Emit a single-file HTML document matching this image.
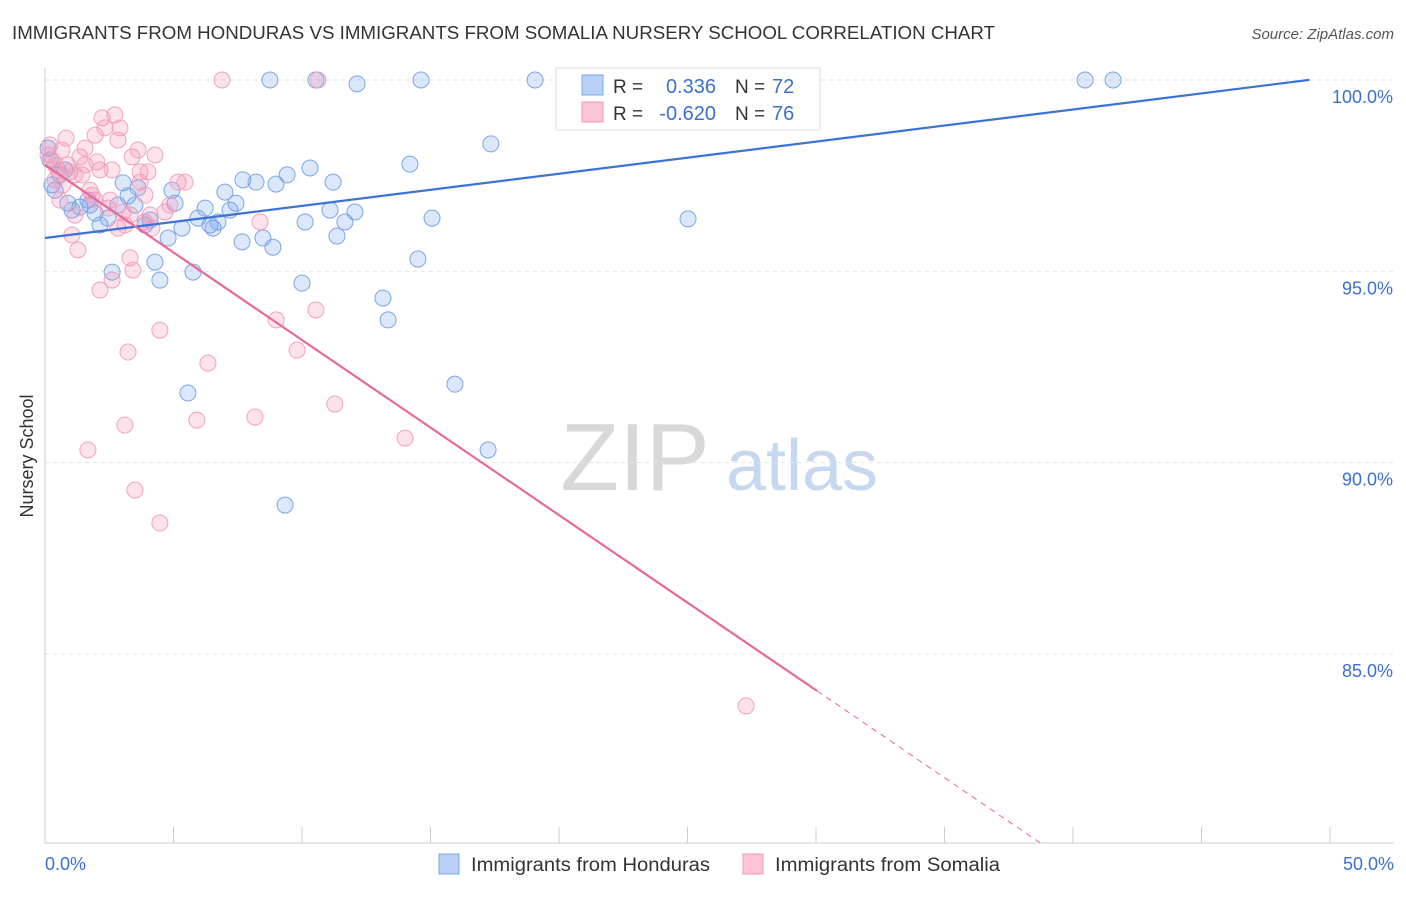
<!DOCTYPE html>
<html><head><meta charset="utf-8"><style>
body{margin:0;background:#fff;font-family:"Liberation Sans",sans-serif;}
svg text{font-family:"Liberation Sans",sans-serif;}
</style></head><body>
<svg id="chart" width="1406" height="892" xmlns="http://www.w3.org/2000/svg">
<text x="12" y="39" font-size="18" fill="#333" textLength="983" lengthAdjust="spacingAndGlyphs">IMMIGRANTS FROM HONDURAS VS IMMIGRANTS FROM SOMALIA NURSERY SCHOOL CORRELATION CHART</text>
<text x="1394" y="39" font-size="15" fill="#555" text-anchor="end" font-style="italic">Source: ZipAtlas.com</text>
<text transform="translate(33,456) rotate(-90)" font-size="18" fill="#333" text-anchor="middle">Nursery School</text>
<g>
<text x="635" y="490" font-size="96" fill="#d8d8d8" text-anchor="middle" font-family="Liberation Serif, serif">ZIP</text>
<text x="802" y="490" font-size="72" fill="#c5d8ef" text-anchor="middle">atlas</text>
</g>
<g id="grid"></g><g id="axes"></g><g id="pts"></g><g id="lines"></g>
<g>
<rect x="556" y="68" width="264" height="62" fill="#fff" stroke="#ddd"/>
<rect x="582" y="75" width="21" height="20" fill="#b8d0f5" stroke="#7aa6e6"/>
<rect x="582" y="102" width="21" height="20" fill="#fcc4d4" stroke="#f09ab6"/>
<text x="613" y="93" font-size="19" fill="#333">R =</text>
<text x="716" y="93" font-size="20" fill="#3b70d0" text-anchor="end">0.336</text>
<text x="735" y="93" font-size="19" fill="#333">N =</text>
<text x="772" y="93" font-size="20" fill="#3b70d0">72</text>
<text x="613" y="120" font-size="19" fill="#333">R =</text>
<text x="716" y="120" font-size="20" fill="#3b70d0" text-anchor="end">-0.620</text>
<text x="735" y="120" font-size="19" fill="#333">N =</text>
<text x="772" y="120" font-size="20" fill="#3b70d0">76</text>
</g>
<g>
<rect x="439" y="854" width="20" height="20" fill="#b8d0f5" stroke="#7aa6e6"/>
<text x="471" y="871" font-size="19" fill="#333" textLength="239" lengthAdjust="spacingAndGlyphs">Immigrants from Honduras</text>
<rect x="743" y="854" width="20" height="20" fill="#fcc4d4" stroke="#f09ab6"/>
<text x="775" y="871" font-size="19" fill="#333" textLength="225" lengthAdjust="spacingAndGlyphs">Immigrants from Somalia</text>
</g>
</svg>
<script>
const blueX=[.12,.27,.39,.58,.89,1.05,1.36,1.67,1.95,2.14,2.45,2.61,2.84,3.04,3.23,3.50,3.62,3.89,4.09,4.28,4.47,4.79,4.94,5.06,5.33,5.56,5.76,5.95,6.23,6.42,6.54,6.73,7.00,7.20,7.43,7.67,7.70,8.21,8.48,8.75,8.87,8.99,9.34,9.42,10.0,10.12,10.31,10.54,11.09,11.21,11.36,11.67,12.06,12.14,13.15,13.35,14.20,14.51,14.63,15.06,15.95,17.24,17.35,19.07,23.81,25.02,28.13,40.47,41.56,.19,.78,1.75];
const blueY=[98.22,97.26,97.12,97.52,96.78,96.60,96.68,96.86,96.52,96.21,96.39,94.98,96.73,97.31,96.97,96.73,97.18,96.21,96.34,95.24,94.77,95.87,97.12,96.78,96.13,91.82,94.98,96.39,96.65,96.21,96.13,96.29,97.07,96.60,96.78,95.77,97.39,97.33,95.87,100,95.63,97.28,88.89,97.52,94.69,96.29,97.70,100,96.60,97.33,95.92,96.29,96.55,99.90,94.30,93.73,97.80,95.32,100,96.39,92.05,90.33,98.33,100,100,96.37,100,100,100,97.91,97.65,96.73];
const pinkX=[.12,.27,.39,.51,.66,.82,.97,1.05,1.17,1.28,1.36,1.44,1.56,1.67,1.75,1.83,1.95,2.02,2.14,2.22,2.33,2.45,2.61,2.72,2.84,2.92,3.04,3.11,3.23,3.31,3.39,3.42,3.50,3.62,3.70,3.89,4.01,4.09,4.16,4.28,4.47,4.47,4.67,5.18,5.45,5.91,6.34,6.89,8.17,8.37,8.99,9.81,10.54,10.62,11.28,14.01,27.28,.19,.58,.89,1.17,1.56,1.95,2.53,2.84,3.11,3.70,3.89,.39,2.14,4.86,3.31,.70,2.61];
const pinkY=[98.04,97.91,97.39,97.65,98.17,98.48,97.60,95.95,96.47,95.56,97.99,97.52,98.22,90.33,97.12,96.99,98.56,97.86,94.51,99.01,98.75,96.65,94.77,99.09,96.13,98.75,96.55,90.98,92.89,95.35,97.99,95.03,89.28,98.17,97.60,96.99,97.60,96.47,96.13,98.04,88.42,93.46,96.55,97.33,97.33,91.11,92.60,100,91.19,96.29,93.73,92.94,93.99,100,91.53,90.64,83.64,98.30,96.86,97.78,97.52,97.78,96.86,96.86,98.43,96.21,97.33,96.29,97.78,97.65,96.73,96.47,97.26,97.65];
const blueTrend=[95.87,100.07];
const pinkTrend=[97.78,74.9];
const yTicks=[100,95,90,85];
const yTickLabels=["100.0%","95.0%","90.0%","85.0%"];
const xTicks=[0,5,10,15,20,25,30,35,40,45,50];

const NS="http://www.w3.org/2000/svg";
const X=v=>45+v/50*1285;
const Y=v=>80+(100-v)*38.26;
function mk(tag,attrs,parent){const e=document.createElementNS(NS,tag);for(const k in attrs)e.setAttribute(k,attrs[k]);document.getElementById(parent).appendChild(e);return e;}
yTicks.forEach((t,i)=>{
  const l=mk('line',{x1:45,x2:1394,y1:Y(t),y2:Y(t),stroke:'#e2e2e2','stroke-dasharray':'4,4'},'grid');
  
  
  const tx=mk('text',{x:1393,y:Y(t)+23,'font-size':18,fill:'#3b70d0','text-anchor':'end'},'grid');
  tx.textContent=yTickLabels[i];
  
  
});
const ya=mk('line',{x1:45,x2:45,y1:68,y2:843,stroke:'#ccc'},'axes');


const xa=mk('line',{x1:45,x2:1394,y1:843,y2:843,stroke:'#ccc'},'axes');


xTicks.forEach(t=>{
  const l=mk('line',{x1:X(t),x2:X(t),y1:827,y2:843,stroke:'#ccc'},'axes');
  
  
});
const xl0=mk('text',{x:45,y:870,'font-size':18,fill:'#3b70d0'},'axes');xl0.textContent='0.0%';


const xl1=mk('text',{x:1394,y:870,'font-size':18,fill:'#3b70d0','text-anchor':'end'},'axes');xl1.textContent='50.0%';


blueX.forEach((x,i)=>{
  const c=mk('circle',{cx:X(x),cy:Y(blueY[i]),r:8,fill:'rgba(110,160,235,0.25)',stroke:'#7aa6e6','stroke-width':1},'pts');
  
  
});
pinkX.forEach((x,i)=>{
  const c=mk('circle',{cx:X(x),cy:Y(pinkY[i]),r:8,fill:'rgba(245,140,175,0.25)',stroke:'#f2a2bd','stroke-width':1},'pts');
  
  
});
const bx2=49.2;
const bl=mk('line',{x1:X(0),y1:Y(blueTrend[0]),x2:X(bx2),y2:Y(blueTrend[0]+(blueTrend[1]-blueTrend[0])*bx2/50),stroke:'#3b72d6','stroke-width':2.2},'lines');


const pv=x=>pinkTrend[0]+(pinkTrend[1]-pinkTrend[0])*x/50;
const ps=30.04, pe=(pinkTrend[0]-80.06)/(pinkTrend[0]-pinkTrend[1])*50;
const pl=mk('line',{x1:X(0),y1:Y(pv(0)),x2:X(ps),y2:Y(pv(ps)),stroke:'#e8689a','stroke-width':2.2},'lines');


const pd=mk('line',{x1:X(ps),y1:Y(pv(ps)),x2:X(pe),y2:Y(pv(pe)),stroke:'#e8689a','stroke-width':1,'stroke-dasharray':'6,5'},'lines');


</script>
</body></html>
